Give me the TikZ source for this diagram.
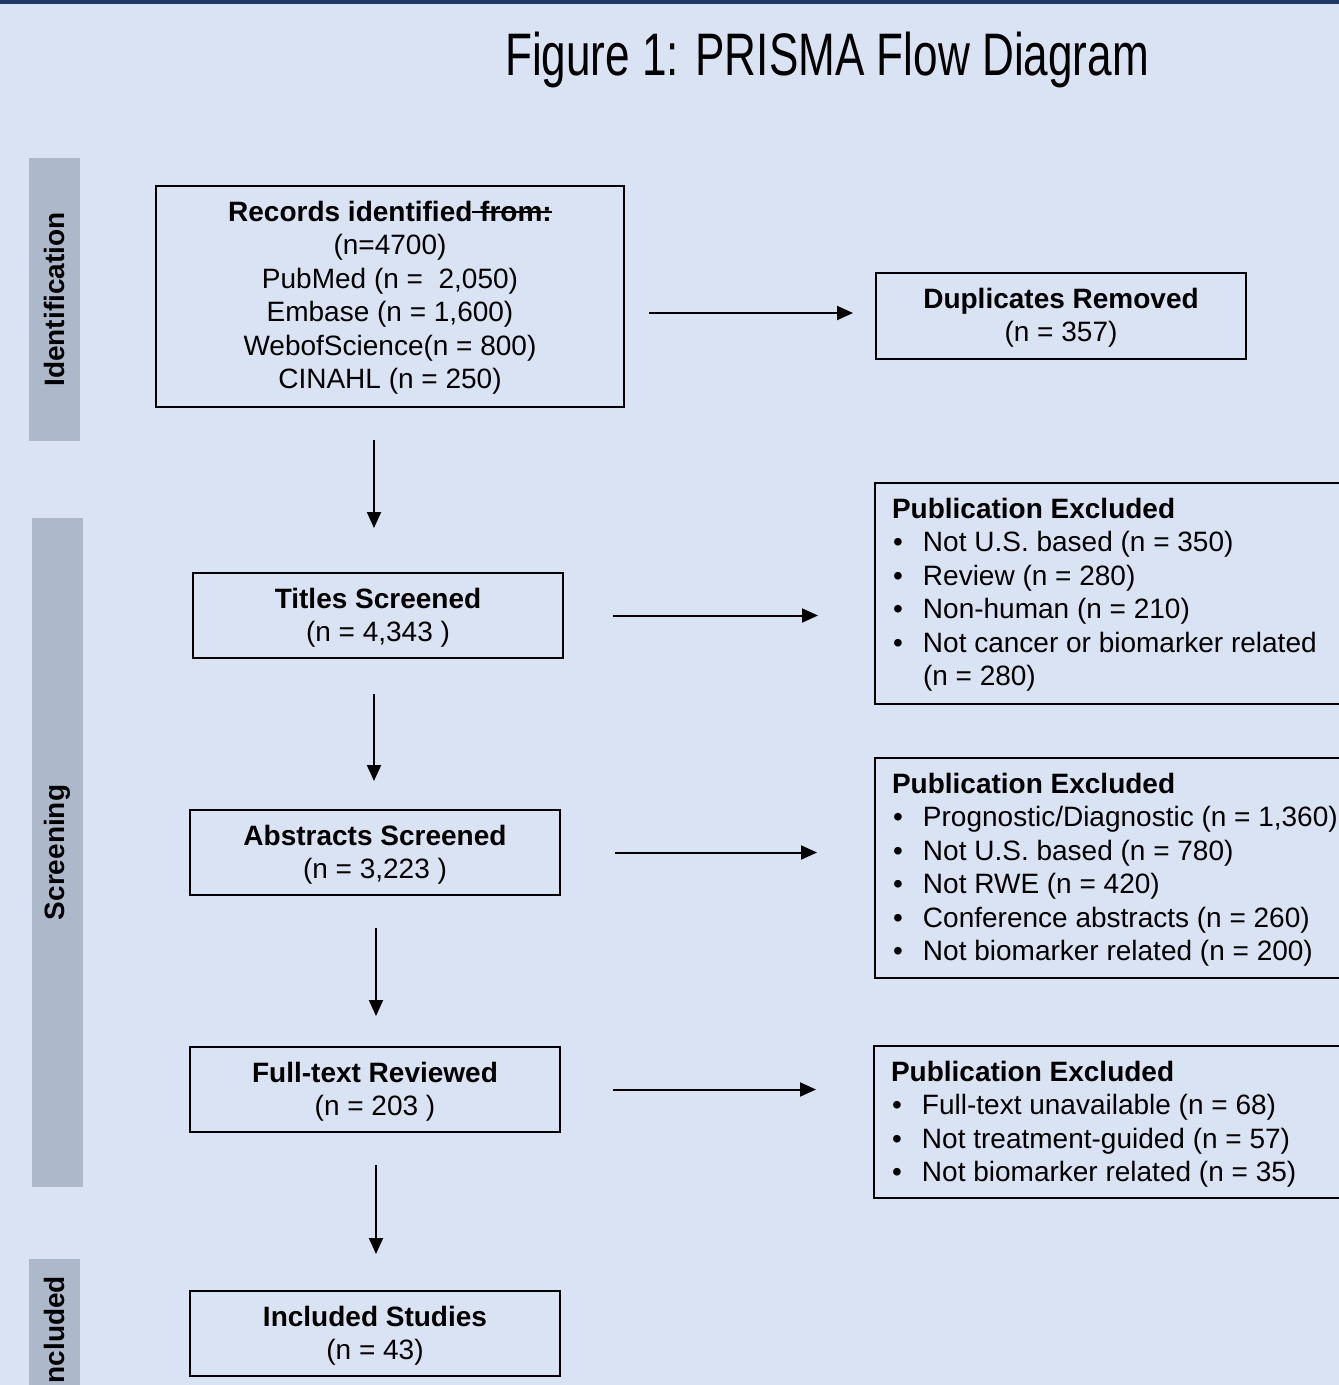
\documentclass[tikz,border=0pt]{standalone}
\usepackage{fontspec}
\usepackage{graphicx}
\setmainfont{Liberation Sans}
\usetikzlibrary{arrows.meta,calc}
\definecolor{bg}{HTML}{DAE3F3}
\definecolor{barcol}{HTML}{ADB9CA}
\definecolor{navy}{HTML}{203864}
\newlength\stlen
\newcommand\strk[1]{\settowidth\stlen{#1}\rlap{\rule[8pt]{\stlen}{1.6pt}}#1}
\newcommand\cbox[3]{\parbox[c][#2][t]{#1}{\centering\rule{0pt}{35pt}#3\par}}
\newcommand\lbox[3]{\parbox[c][#2][t]{#1}{\raggedright\leftskip=17pt\rule{0pt}{35pt}#3\par}}
\newcommand\bl{\makebox[31pt][l]{\hspace{1pt}\textbullet}}
\tikzset{
  box/.style={draw=black, line width=2pt, inner sep=0pt, anchor=north west},
  arr/.style={line width=2pt, -{Triangle[length=16pt,width=14pt]}},
  sidebar/.style={fill=barcol, rotate=90, inner sep=0pt, font=\fontsize{28pt}{33.5pt}\selectfont\bfseries}
}
\begin{document}
\begin{tikzpicture}[x=1pt,y=-1pt,font=\fontsize{28pt}{33.5pt}\selectfont]
\useasboundingbox (0,0) rectangle (1339,1385);
\clip (0,0) rectangle (1339,1385);
\fill[bg] (0,0) rectangle (1339,1385);
\fill[navy] (0,0) rectangle (1339,4);

\node[anchor=base west, inner sep=0pt] (title) at (505,75) {\scalebox{0.735}[1]{\fontsize{60pt}{60pt}\selectfont Figure 1: PRISMA Flow Diagram}};

\node[sidebar, minimum width=283pt, minimum height=51pt] (sid1) at (54.5,299.5) {Identification};
\node[sidebar, minimum width=669pt, minimum height=51pt] (sid2) at (57.5,852.5) {Screening};
\node[sidebar, minimum width=149pt, minimum height=51pt] (sid3) at (54.5,1333.5) {Included};

\node[box] (rec) at (155,185) {\cbox{468pt}{221pt}{\textbf{Records identified\strk{ from:}}\\(n=4700)\\PubMed (n =\ \ 2,050)\\Embase (n = 1,600)\\WebofScience(n = 800)\\CINAHL (n = 250)}};
\node[box] (dup) at (875,272) {\cbox{370pt}{86pt}{\textbf{Duplicates Removed}\\(n = 357)}};
\node[box] (tit) at (192,572) {\cbox{370pt}{85pt}{\textbf{Titles Screened}\\(n = 4,343 )}};
\node[box] (abs) at (189,809) {\cbox{370pt}{85pt}{\textbf{Abstracts Screened}\\(n = 3,223 )}};
\node[box] (ful) at (189,1046) {\cbox{370pt}{85pt}{\textbf{Full-text Reviewed}\\(n = 203 )}};
\node[box] (inc) at (189,1290) {\cbox{370pt}{85pt}{\textbf{Included Studies}\\(n = 43)}};

\node[box] (ex1) at (874,482) {\lbox{480pt}{221pt}{\textbf{Publication Excluded}\\\bl Not U.S. based (n = 350)\\\bl Review (n = 280)\\\bl Non-human (n = 210)\\\bl Not cancer or biomarker related\\\hspace*{31pt}(n = 280)}};
\node[box] (ex2) at (874,757) {\lbox{480pt}{220pt}{\textbf{Publication Excluded}\\\bl Prognostic/Diagnostic (n = 1,360)\\\bl Not U.S. based (n = 780)\\\bl Not RWE (n = 420)\\\bl Conference abstracts (n = 260)\\\bl Not biomarker related (n = 200)}};
\node[box] (ex3) at (873,1045) {\lbox{480pt}{152pt}{\textbf{Publication Excluded}\\\bl Full-text unavailable (n = 68)\\\bl Not treatment-guided (n = 57)\\\bl Not biomarker related (n = 35)}};

\coordinate (d1) at ([yshift=3pt]dup.west);
\coordinate (t1) at ([xshift=-4pt]tit.north);
\coordinate (a1) at ([xshift=-1pt]abs.north);
\coordinate (f1) at ([xshift=1pt]ful.north);
\coordinate (i1) at ([xshift=1pt]inc.north);

\draw[arr, shorten <=24pt, shorten >=22pt] (rec.east |- d1) -- (d1);
\draw[arr, shorten <=32pt, shorten >=44pt] (rec.south -| t1) -- (t1);
\draw[arr, shorten <=49pt, shorten >=56pt] (tit.east) -- (tit.east -| ex1.west);
\draw[arr, shorten <=35pt, shorten >=28pt] (tit.south -| a1) -- (a1);
\draw[arr, shorten <=54pt, shorten >=57pt] (abs.east) -- (abs.east -| ex2.west);
\draw[arr, shorten <=32pt, shorten >=30pt] (abs.south -| f1) -- (f1);
\draw[arr, shorten <=52pt, shorten >=57pt] (ful.east) -- (ful.east -| ex3.west);
\draw[arr, shorten <=32pt, shorten >=36pt] (ful.south -| i1) -- (i1);
\end{tikzpicture}
\end{document}
